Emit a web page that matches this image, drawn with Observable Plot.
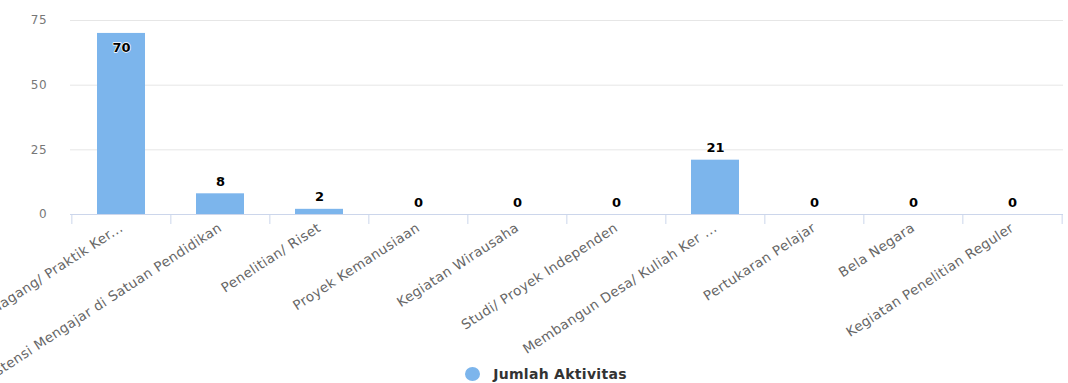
<!DOCTYPE html>
<html>
<head>
<meta charset="utf-8">
<script src="https://cdn.jsdelivr.net/npm/d3@7"></script>
<script src="https://cdn.jsdelivr.net/npm/@observablehq/plot@0.6"></script>
<style>
  html, body { margin: 0; padding: 0; background: #fff; overflow: hidden; }
  #chart svg { display: block; overflow: visible; }
  #chart g[aria-label="x-axis tick label"] text { letter-spacing: 0.4px; }
  #chart g[aria-label="y-axis tick label"] text { letter-spacing: 0.8px; }
  #legend { height: 24px; display: flex; align-items: center; justify-content: center; padding-left: 24px;
    font-family: "DejaVu Sans", sans-serif; font-weight: bold; font-size: 14px; color: #333; letter-spacing: 0.3px; }
  #legend .dot { width: 15px; height: 14px; border-radius: 50%; background: #7cb5ec; margin-right: 13px; }
</style>
</head>
<body>
<div id="chart"></div>
<div id="legend"><span class="dot"></span><span>Jumlah Aktivitas</span></div>
<script>
const categories = [
  "Magang/ Praktik Ker...",
  "Asistensi Mengajar di Satuan Pendidikan",
  "Penelitian/ Riset",
  "Proyek Kemanusiaan",
  "Kegiatan Wirausaha",
  "Studi/ Proyek Independen",
  "Membangun Desa/ Kuliah Ker ...",
  "Pertukaran Pelajar",
  "Bela Negara",
  "Kegiatan Penelitian Reguler"
];
const values = [70, 8, 2, 0, 0, 0, 21, 0, 0, 0];
const yTicks = [0, 25, 50, 75];
const seriesName = "Jumlah Aktivitas";

const data = categories.map((c, i) => ({category: c, value: values[i]}));

const width = 1068, height = 362;
const marginLeft = 70, marginRight = 5;
const paddingInner = 0.52, paddingOuter = 0.26;
const step = (width - marginLeft - marginRight) / (categories.length - paddingInner + 2 * paddingOuter);
const font = "DejaVu Sans";

const chart = Plot.plot({
  width, height,
  marginTop: 20, marginBottom: 148, marginLeft, marginRight,
  style: {fontFamily: font, background: "#fff"},
  x: {domain: categories, paddingInner, paddingOuter, axis: null},
  y: {domain: [0, 75], axis: null},
  marks: [
    Plot.gridY(yTicks, {stroke: "#e6e6e6", strokeOpacity: 1}),
    Plot.axisY(yTicks, {tickSize: 0, tickPadding: 23, fill: "#777", fontSize: 12, label: null}),
    Plot.barY(data, {x: "category", y: "value", fill: "#7cb5ec"}),
    Plot.ruleY([0], {stroke: "#ccd6eb"}),
    Plot.axisX(categories, {tickSize: 10, tickFormat: () => "", dx: -step / 2, stroke: "#ccd6eb", label: null}),
    Plot.axisX(categories.slice(-1), {tickSize: 10, tickFormat: () => "", dx: step / 2, stroke: "#ccd6eb", label: null}),
    Plot.axisX(categories, {tickSize: 0, tickPadding: 12, tickRotate: -33, textAnchor: "end", fill: "#666", fontSize: 13.5, label: null}),
    Plot.text(data.filter(d => d.value < 65), {x: "category", y: "value", text: d => String(d.value), dy: -12,
      fontWeight: "bold", fontSize: 13, fill: "#000", stroke: "white", strokeWidth: 1.5, paintOrder: "stroke"}),
    Plot.text(data.filter(d => d.value >= 65), {x: "category", y: "value", text: d => String(d.value), dy: 14,
      fontWeight: "bold", fontSize: 13, fill: "#000", stroke: "white", strokeWidth: 1.5, paintOrder: "stroke"})
  ]
});
document.getElementById("chart").appendChild(chart);
</script>
</body>
</html>
